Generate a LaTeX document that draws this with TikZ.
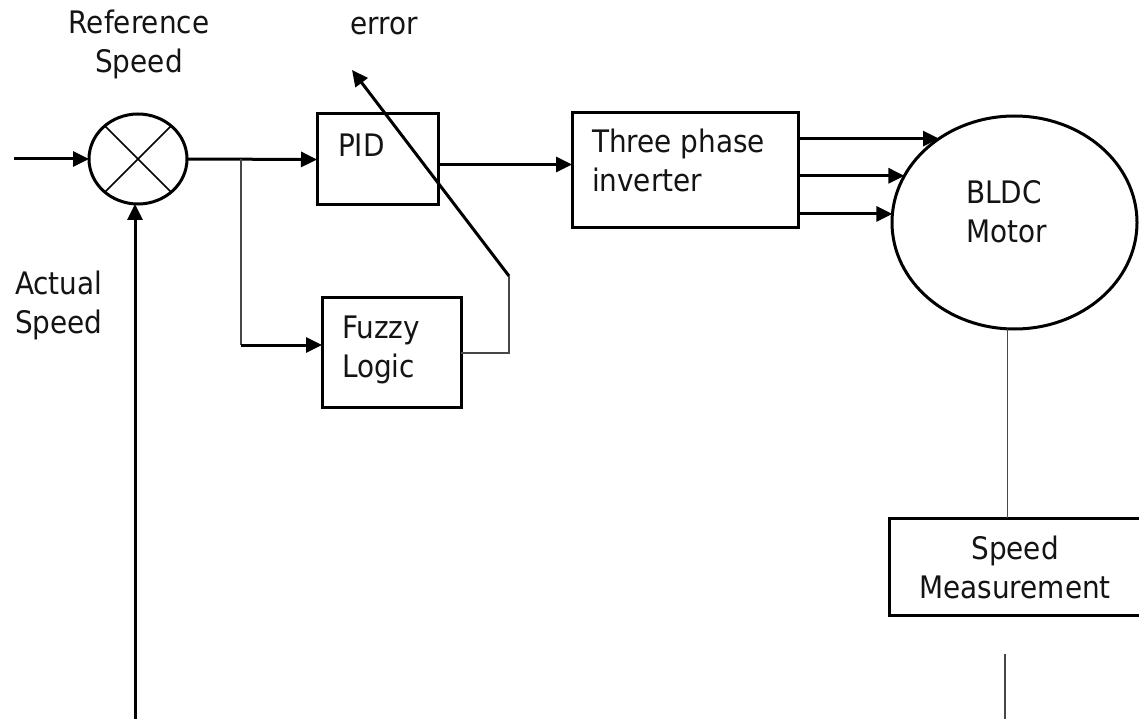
\documentclass[tikz,border=0pt]{standalone}
\usepackage{fontspec}
\setmainfont{DejaVu Sans}[FakeStretch=0.9]
\usetikzlibrary{shapes.geometric,arrows.meta}

\begin{document}
\begin{tikzpicture}[x=1pt,y=-1pt,
  every node/.style={inner sep=0pt,outer sep=0pt},
  lbl/.style={font=\fontsize{31}{39}\selectfont,text=black!92},
  blk/.style={draw,line width=3pt,rectangle},
  ring/.style={draw,line width=3pt,ellipse},
  arr/.style={line width=3pt,-{Triangle[length=16pt,width=15pt]}},
  wire/.style={line width=1.6pt,draw=black!72},
]
\fill[white] (0,0) rectangle (1139,719);
\useasboundingbox (0,0) rectangle (1139,719);

% blocks
\node[ring,minimum width=98pt,minimum height=90pt] (sum) at (138,159) {};
\node[blk,minimum width=121pt,minimum height=91pt] (pid) at (377.5,159.5) {};
\node[blk,minimum width=139pt,minimum height=110pt] (fuzzy) at (391.5,352) {};
\node[blk,minimum width=226pt,minimum height=115pt] (inv) at (685,170.5) {};
\node[ring,minimum width=245pt,minimum height=213pt] (motor) at (1014.5,222.5) {};
\node[blk,minimum width=252pt,minimum height=97pt] (speed) at (1015,566.5) {};

% cross inside the summing junction
\draw[line width=1.5pt] (sum.45) -- (sum.225);
\draw[line width=1.5pt] (sum.135) -- (sum.315);

% texts (multi-line nodes are placed by the baseline of their last line)
\node[lbl,align=center,anchor=base] (tref) at (139,73) {Reference\\Speed};
\node[lbl,anchor=base] (terr) at (384,35) {error};
\node[lbl,align=left,anchor=base west] (tact) at (15,333) {Actual\\Speed};
\node[lbl,anchor=base west] (tpid) at (338,157) {PID};
\node[lbl,align=left,anchor=base west] (tfuz) at (342,377) {Fuzzy\\Logic};
\node[lbl,align=left,anchor=base west] (tinv) at (592,192) {Three phase\\inverter};
\node[lbl,align=left,anchor=base west] (tmot) at (966,242) {BLDC\\Motor};
\node[lbl,align=center,anchor=base] (tspd) at (1015,598) {Speed\\Measurement};

% free ends
\coordinate (src) at (14,159);
\coordinate (br) at (241,159);
\coordinate (fz1) at (509,353);
\coordinate (fz2) at (509,276);
\coordinate (errtip) at (352,70);
\coordinate (fbin) at (135,719);
\coordinate (fbtop) at (1005,654);
\coordinate (fbbot) at (1005,719);

% forward path
\draw[arr] (src) -- (sum.west);
\draw[arr] (sum.east) -- (pid.west);
\draw[wire] (br) -- ([yshift=7pt]fuzzy.west -| br);
\draw[arr] ([yshift=7pt]fuzzy.west -| br) -- ([yshift=7pt]fuzzy.west);
\draw[arr] ([yshift=-5pt]pid.east) -- ([yshift=-5pt]pid.east -| inv.west);

% fuzzy tuning of the PID gains
\draw[wire] ([yshift=-1pt]fuzzy.east) -- (fz1) -- (fz2);
\draw[arr] (fz2) -- (errtip);

% three phase supply to the motor
\draw[arr] (motor.132.2 -| inv.east) -- (motor.132.2);
\draw[arr] (motor.157.4 -| inv.east) -- (motor.157.4);
\draw[arr] (motor.176.1 -| inv.east) -- (motor.176.1);

% speed feedback
\draw[wire] ([xshift=-7pt]motor.south) -- ([xshift=-7pt]motor.south |- speed.north);
\draw[wire] (fbtop) -- (fbbot);
\draw[arr] (fbin) -- (fbin |- sum.south);
\end{tikzpicture}
\end{document}
